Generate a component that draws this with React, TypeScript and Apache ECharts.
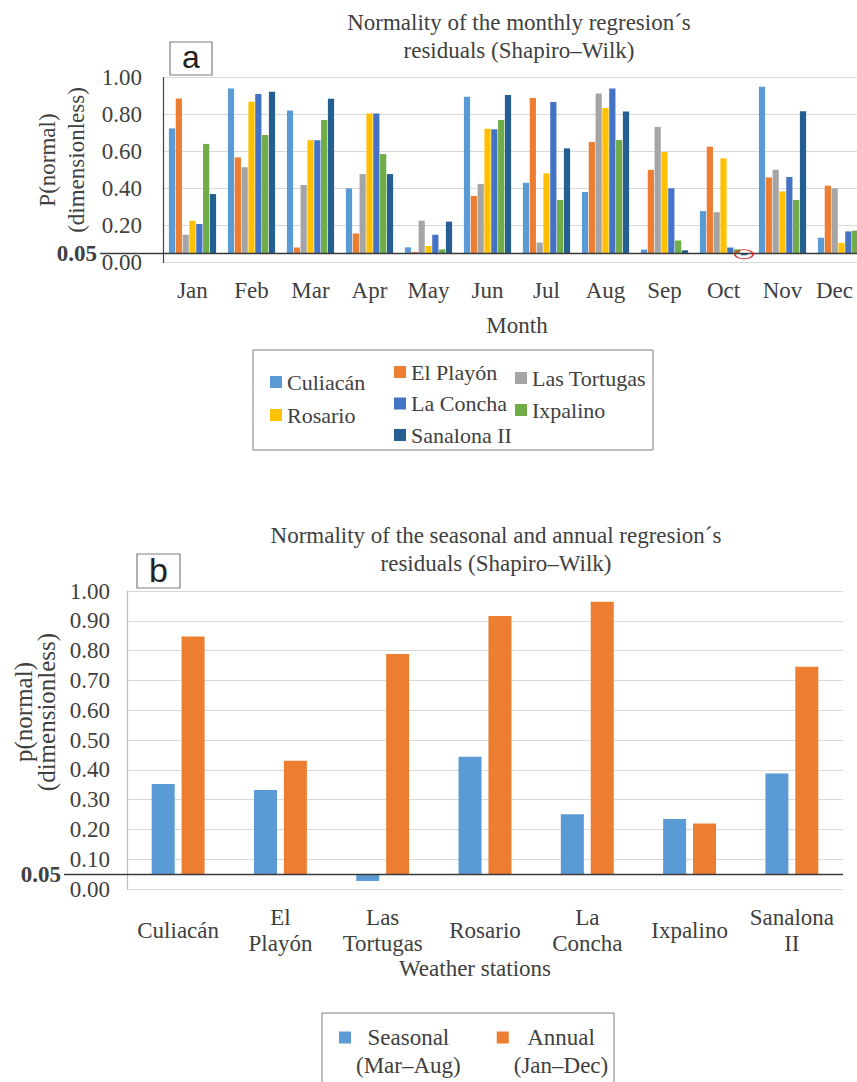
import React, { useEffect, useRef } from 'react';
import * as echarts from 'echarts';

// ---------- data ----------
const months = ['Jan', 'Feb', 'Mar', 'Apr', 'May', 'Jun', 'Jul', 'Aug', 'Sep', 'Oct', 'Nov', 'Dec'];
const stations = ['Culiacán', 'El Playón', 'Las Tortugas', 'Rosario', 'La Concha', 'Ixpalino', 'Sanalona II'];

const culiacan = [0.725, 0.941, 0.821, 0.401, 0.082, 0.896, 0.431, 0.381, 0.070, 0.278, 0.950, 0.134];
const elPlayon = [0.887, 0.568, 0.081, 0.157, 0.057, 0.360, 0.889, 0.651, 0.501, 0.626, 0.460, 0.415];
const lasTortugas = [0.150, 0.515, 0.419, 0.478, 0.226, 0.425, 0.108, 0.914, 0.733, 0.272, 0.501, 0.401];
const rosario = [0.226, 0.869, 0.661, 0.806, 0.089, 0.723, 0.482, 0.835, 0.597, 0.563, 0.384, 0.106];
const laConcha = [0.208, 0.911, 0.661, 0.806, 0.150, 0.720, 0.867, 0.941, 0.401, 0.081, 0.462, 0.168];
const ixpalino = [0.641, 0.689, 0.770, 0.586, 0.071, 0.770, 0.338, 0.662, 0.119, 0.071, 0.338, 0.172];
const sanalona = [0.370, 0.923, 0.885, 0.478, 0.221, 0.905, 0.617, 0.816, 0.066, 0.039, 0.817, 0.300];

const stationLabelsB = ['Culiacán', 'El\nPlayón', 'Las\nTortugas', 'Rosario', 'La\nConcha', 'Ixpalino', 'Sanalona\nII'];
const seasonal = [0.352, 0.332, 0.027, 0.444, 0.251, 0.235, 0.388];
const annual = [0.847, 0.430, 0.789, 0.916, 0.964, 0.220, 0.746];
const periodNames = ['Seasonal (Mar–Aug)', 'Annual (Jan–Dec)'];

const BASELINE = 0.05;

// ---------- styles ----------
const SERIF = 'Liberation Serif';
const SANS = 'Liberation Sans';
const TXT = '#404040';
const FS = 23;
const stationColors = ['#5B9BD5', '#ED7D31', '#A5A5A5', '#FFC000', '#4472C4', '#70AD47', '#255E91'];
const periodColors = ['#5B9BD5', '#ED7D31'];

function baselineMarkLine(startX: number, endX: number) {
  return {
    silent: true,
    symbol: ['none', 'none'],
    lineStyle: { color: '#3a3a3a', width: 1.3, type: 'solid' },
    label: {
      show: true,
      position: 'start',
      formatter: BASELINE.toFixed(2),
      fontFamily: SERIF,
      fontWeight: 'bold',
      fontSize: FS,
      color: TXT,
      distance: 3,
    },
    data: [[{ x: startX, yAxis: BASELINE }, { x: endX, yAxis: BASELINE }]],
  };
}

function buildOption() {
  const monthly = [culiacan, elPlayon, lasTortugas, rosario, laConcha, ixpalino, sanalona];
  const series: any[] = [];

  monthly.forEach((vals, i) => {
    series.push({
      type: 'bar',
      name: '_baseA' + i,
      xAxisIndex: 0,
      yAxisIndex: 0,
      stack: 'a' + i,
      stackStrategy: 'all',
      data: vals.map(() => BASELINE),
      itemStyle: { color: 'rgba(0,0,0,0)' },
      silent: true,
      clip: false,
      barCategoryGap: '20%',
      barGap: '10%',
      ...(i === 0 ? { markLine: baselineMarkLine(100, 857) } : {}),
    });
    series.push({
      type: 'bar',
      name: stations[i],
      xAxisIndex: 0,
      yAxisIndex: 0,
      stack: 'a' + i,
      stackStrategy: 'all',
      data: vals.map((v) => +(v - BASELINE).toFixed(4)),
      itemStyle: { color: stationColors[i] },
      barCategoryGap: '20%',
      barGap: '10%',
      ...(i === 6
        ? {
            markPoint: {
              silent: true,
              symbol: 'circle',
              symbolSize: [18, 9],
              itemStyle: { color: 'rgba(0,0,0,0)', borderColor: '#d62728', borderWidth: 1.2 },
              label: { show: false },
              data: [{ coord: ['Oct', 0.045] }],
            },
          }
        : {}),
    });
  });

  [seasonal, annual].forEach((vals, i) => {
    series.push({
      type: 'bar',
      name: '_baseB' + i,
      xAxisIndex: 1,
      yAxisIndex: 1,
      stack: 'b' + i,
      stackStrategy: 'all',
      data: vals.map(() => BASELINE),
      itemStyle: { color: 'rgba(0,0,0,0)' },
      silent: true,
      clip: false,
      barWidth: 23,
      barGap: '30%',
      ...(i === 0 ? { markLine: baselineMarkLine(64, 843) } : {}),
    });
    series.push({
      type: 'bar',
      name: periodNames[i],
      xAxisIndex: 1,
      yAxisIndex: 1,
      stack: 'b' + i,
      stackStrategy: 'all',
      data: vals.map((v) => +(v - BASELINE).toFixed(4)),
      itemStyle: { color: periodColors[i] },
      barWidth: 23,
      barGap: '30%',
    });
  });

  const legendText = { fontFamily: SERIF, fontSize: 22, color: TXT, lineHeight: 24 };
  const legendCommon = {
    orient: 'vertical',
    padding: 0,
    itemWidth: 12,
    itemHeight: 12,
    icon: 'rect',
    selectedMode: false,
    textStyle: legendText,
  };

  return {
    animation: false,
    backgroundColor: '#ffffff',
    title: [
      {
        text: 'Normality of the monthly regresion´s\nresiduals (Shapiro–Wilk)',
        left: 519,
        top: 8,
        padding: 0,
        textAlign: 'center',
        textStyle: { fontFamily: SERIF, fontSize: FS, fontWeight: 'normal', lineHeight: 28, color: TXT },
      },
      {
        text: 'Normality of the seasonal and annual regresion´s\nresiduals (Shapiro–Wilk)',
        left: 496,
        top: 521,
        padding: 0,
        textAlign: 'center',
        textStyle: { fontFamily: SERIF, fontSize: FS, fontWeight: 'normal', lineHeight: 28, color: TXT },
      },
    ],
    grid: [
      { left: 163, top: 77.5, width: 708, height: 185, outerBoundsMode: 'none', containLabel: false },
      { left: 127, top: 591, width: 716, height: 298, outerBoundsMode: 'none', containLabel: false },
    ],
    xAxis: [
      {
        type: 'category',
        gridIndex: 0,
        data: months,
        axisLine: { show: false },
        axisTick: { show: false },
        axisLabel: {
          interval: 0,
          hideOverlap: false,
          margin: 27.5,
          verticalAlign: 'middle',
          fontFamily: SERIF,
          fontSize: FS,
          color: TXT,
          formatter: (v: string, i: number) => (i === months.length - 1 ? '{d|' + v + '}' : v),
          rich: { d: { fontFamily: SERIF, fontSize: FS, color: TXT, padding: [0, 14, 0, 0] } },
        },
        name: 'Month',
        nameLocation: 'middle',
        nameGap: 51,
        nameTextStyle: { fontFamily: SERIF, fontSize: FS, color: TXT },
      },
      {
        type: 'category',
        gridIndex: 1,
        data: stationLabelsB,
        axisLine: { show: false },
        axisTick: { show: false },
        axisLabel: {
          interval: 0,
          hideOverlap: false,
          margin: 41,
          verticalAlign: 'middle',
          lineHeight: 26,
          fontFamily: SERIF,
          fontSize: FS,
          color: TXT,
        },
        name: 'Weather stations',
        nameLocation: 'middle',
        nameGap: 68,
        nameTextStyle: { fontFamily: SERIF, fontSize: FS, color: TXT, padding: [0, 20, 0, 0] },
      },
    ],
    yAxis: [
      {
        type: 'value',
        gridIndex: 0,
        min: 0,
        max: 1,
        interval: 0.2,
        axisLine: { show: true, lineStyle: { color: '#444', width: 1.2 } },
        axisTick: { show: false },
        splitLine: { lineStyle: { color: '#d9d9d9', width: 1.2 } },
        axisLabel: { formatter: (v: number) => v.toFixed(2), margin: 21, fontFamily: SERIF, fontSize: FS, color: TXT },
        name: 'P(normal)\n(dimensionless)',
        nameLocation: 'middle',
        nameGap: 68,
        nameTextStyle: { fontFamily: SERIF, fontSize: FS, lineHeight: 29, color: TXT, padding: [0, 0, 0, 20] },
      },
      {
        type: 'value',
        gridIndex: 1,
        min: 0,
        max: 1,
        interval: 0.1,
        axisLine: { show: true, lineStyle: { color: '#bfbfbf', width: 1.2 } },
        axisTick: { show: false },
        splitLine: { lineStyle: { color: '#d9d9d9', width: 1.2 } },
        axisLabel: { formatter: (v: number) => v.toFixed(2), margin: 17, fontFamily: SERIF, fontSize: FS, color: TXT },
        name: 'p(normal)\n(dimensionless)',
        nameLocation: 'middle',
        nameGap: 69,
        nameTextStyle: { fontFamily: SERIF, fontSize: 25, lineHeight: 23, color: TXT, padding: [0, 0, 0, 56] },
      },
    ],
    legend: [
      { ...legendCommon, data: ['Culiacán', 'Rosario'], left: 270, top: 370, itemGap: 9 },
      { ...legendCommon, data: ['El Playón', 'La Concha', 'Sanalona II'], left: 394, top: 360, itemGap: 7.5 },
      { ...legendCommon, data: ['Las Tortugas', 'Ixpalino'], left: 515, top: 366, itemGap: 8 },
      {
        orient: 'horizontal',
        padding: 0,
        data: periodNames,
        left: 339,
        top: 1026,
        itemGap: 36,
        itemWidth: 12,
        itemHeight: 40,
        icon: 'path://M0,0H12V12H0Z M11.99,39.99H12V40H11.99Z',
        selectedMode: false,
        formatter: (name: string) => {
          const k = name.indexOf(' (');
          return '{c|' + name.slice(0, k) + '}\n{c|' + name.slice(k + 1) + '}';
        },
        textStyle: {
          fontFamily: SERIF,
          fontSize: FS,
          color: TXT,
          rich: { c: { align: 'center', fontFamily: SERIF, fontSize: FS, lineHeight: 28, color: TXT } },
        },
      },
    ],
    graphic: [
      { type: 'rect', shape: { x: 253, y: 350, width: 400, height: 100 }, style: { fill: 'none', stroke: '#7f7f7f', lineWidth: 1 } },
      { type: 'rect', shape: { x: 322, y: 1013, width: 292, height: 90 }, style: { fill: 'none', stroke: '#7f7f7f', lineWidth: 1 } },
      { type: 'rect', shape: { x: 170, y: 42, width: 42, height: 33 }, style: { fill: '#fff', stroke: '#7f7f7f', lineWidth: 1.2 } },
      {
        type: 'text',
        x: 191,
        y: 57,
        style: { text: 'a', font: '32px ' + SANS, fill: '#222', align: 'center', verticalAlign: 'middle' },
      },
      { type: 'rect', shape: { x: 137, y: 554, width: 43, height: 34 }, style: { fill: '#fff', stroke: '#7f7f7f', lineWidth: 1.2 } },
      {
        type: 'text',
        x: 158.5,
        y: 570,
        style: { text: 'b', font: '34px ' + SANS, fill: '#222', align: 'center', verticalAlign: 'middle' },
      },
    ],
    series,
  };
}

export default function App() {
  const ref = useRef<HTMLDivElement>(null);
  useEffect(() => {
    if (!ref.current) return;
    const chart = echarts.init(ref.current, null, { renderer: 'svg' });
    chart.setOption(buildOption() as any);
    return () => chart.dispose();
  }, []);
  return (
    <div
      ref={ref}
      style={{ position: 'absolute', left: 0, top: 0, width: 857, height: 1082, background: '#ffffff' }}
    />
  );
}
